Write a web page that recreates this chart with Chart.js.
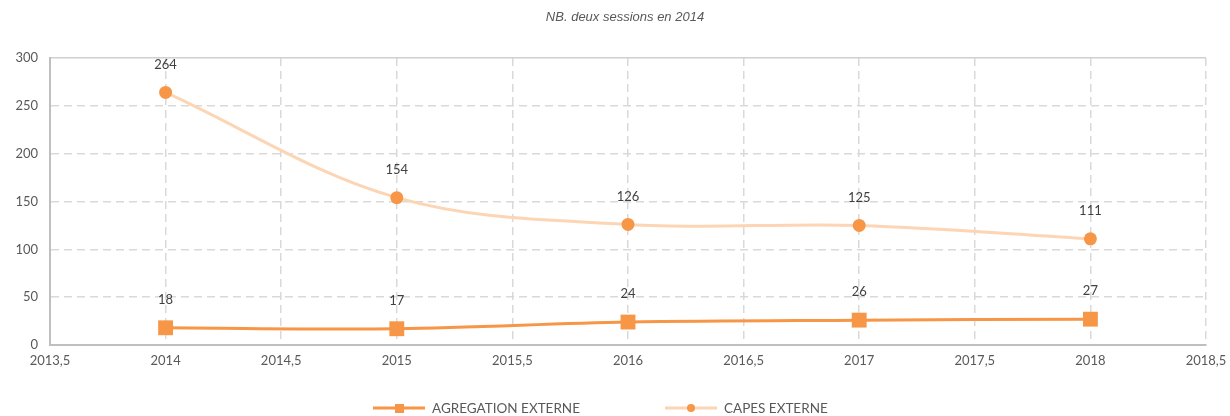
<!DOCTYPE html>
<html>
<head>
<meta charset="utf-8">
<script src="https://cdn.jsdelivr.net/npm/chart.js@4"></script>
<style>
  html, body { margin: 0; padding: 0; background: #ffffff; }
  #wrap { width: 1230px; height: 416px; }
</style>
</head>
<body>
<div id="wrap"><canvas id="chart" width="1230" height="416"></canvas></div>
<script>
const years = [2014, 2015, 2016, 2017, 2018];
const agregation = [18, 17, 24, 26, 27];
const capes = [264, 154, 126, 125, 111];
const titleText = "NB. deux sessions en 2014";
const agregLabel = "AGREGATION EXTERNE";
const capesLabel = "CAPES EXTERNE";

const orange = "#F79646";
const peach = "#FCD5B5";
const textGrey = "#595959";
const font = "Lato, 'Open Sans', sans-serif";

function toPoints(values) {
  return values.map((v, i) => ({ x: years[i], y: v }));
}

// title, data labels and the bottom legend
const extras = {
  id: "extras",
  afterDraw(chart) {
    const c = chart.ctx;
    c.save();
    c.fillStyle = textGrey;
    c.font = "italic 13px 'Liberation Sans', Arial, sans-serif";
    c.textAlign = "center";
    c.textBaseline = "middle";
    c.fillText(titleText, 625, 17);

    c.font = "13px " + font;
    c.fillStyle = "#404040";
    c.textBaseline = "middle";
    chart.data.datasets.forEach((ds, di) => {
      const meta = chart.getDatasetMeta(di);
      meta.data.forEach((pt, i) => {
        c.fillText(String(ds.data[i].y), pt.x, pt.y - 28);
      });
    });

    // legend
    const items = [
      { x: 373, label: agregLabel, line: orange, style: "rect" },
      { x: 665, label: capesLabel, line: peach, style: "circle" }
    ];
    const ly = 408;
    items.forEach(it => {
      c.strokeStyle = it.line;
      c.lineWidth = 3;
      c.beginPath();
      c.moveTo(it.x, ly);
      c.lineTo(it.x + 52, ly);
      c.stroke();
      c.fillStyle = orange;
      if (it.style === "rect") {
        c.fillRect(it.x + 22, ly - 4, 9, 9);
      } else {
        c.beginPath();
        c.arc(it.x + 26, ly, 4, 0, Math.PI * 2);
        c.fill();
      }
      c.fillStyle = textGrey;
      c.textAlign = "left";
      c.font = "13.5px " + font;
      c.fillText(it.label, it.x + 59, ly + 1);
    });
    c.restore();
  }
};

new Chart(document.getElementById("chart"), {
  type: "line",
  data: {
    datasets: [
      {
        label: agregLabel,
        data: toPoints(agregation),
        borderColor: orange,
        backgroundColor: orange,
        borderWidth: 3,
        pointStyle: "rect",
        pointRadius: 10.5,
        pointHoverRadius: 10.5,
        pointBorderWidth: 0,
        tension: 0.35,
        fill: false
      },
      {
        label: capesLabel,
        data: toPoints(capes),
        borderColor: peach,
        backgroundColor: orange,
        borderWidth: 3,
        pointStyle: "circle",
        pointRadius: 6.5,
        pointHoverRadius: 6.5,
        pointBorderWidth: 0,
        tension: 0.35,
        fill: false
      }
    ]
  },
  options: {
    responsive: false,
    animation: false,
    layout: { padding: { top: 58, right: 24, bottom: 43, left: 0 } },
    plugins: {
      legend: { display: false },
      tooltip: { enabled: false },
      title: { display: false }
    },
    scales: {
      x: {
        type: "linear",
        min: 2013.5,
        max: 2018.5,
        afterFit: s => { s.height = 28; s.paddingRight = 0; s.paddingLeft = 0; },
        ticks: {
          stepSize: 0.5,
          padding: 8,
          color: textGrey,
          font: { family: font, size: 13 },
          callback: v => String(v).replace(".", ",")
        },
        grid: { color: "#D9D9D9", lineWidth: 1.5, drawTicks: false },
        border: { color: "#BFBFBF", width: 2, dash: [8, 5] }
      },
      y: {
        min: 0,
        max: 300,
        afterFit: s => { s.width = 50; },
        ticks: {
          stepSize: 50,
          padding: 12,
          color: textGrey,
          font: { family: font, size: 13 }
        },
        grid: {
          color: ctx => ctx.tick && ctx.tick.value === 300 ? "#D0D0D0" : "#D9D9D9",
          lineWidth: 1.5,
          drawTicks: false
        },
        border: {
          color: "#BFBFBF",
          width: 2,
          dash: ctx => ctx.tick && ctx.tick.value === 300 ? [] : [8, 5]
        }
      }
    }
  },
  plugins: [extras]
});
</script>
</body>
</html>
